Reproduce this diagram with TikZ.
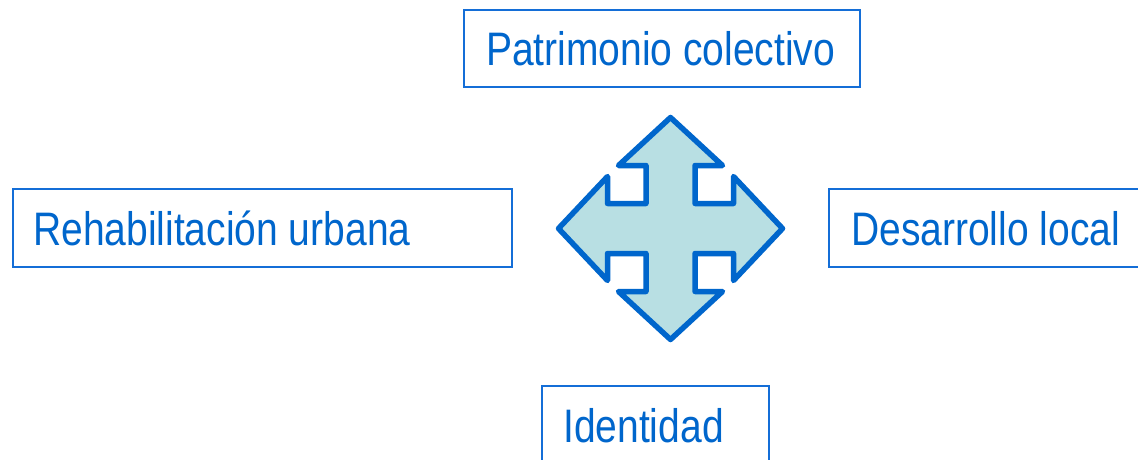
\documentclass[tikz,border=0pt]{standalone}
\usepackage{fontspec}
\setmainfont{Liberation Sans}[FakeStretch=0.83]
\definecolor{txtblue}{RGB}{0,102,204}
\definecolor{boxblue}{RGB}{20,110,215}
\definecolor{crossfill}{RGB}{184,223,227}
\tikzset{
  box/.style={draw=boxblue, line width=1.6pt, rectangle, inner sep=0pt, fill=white},
  lbl/.style={text=txtblue, inner sep=0pt, anchor=base west, font=\fontsize{47}{52}\selectfont},
  crossshape/.style={draw=txtblue, fill=crossfill, line width=5.5pt, line join=round}
}
\begin{document}
\begin{tikzpicture}[x=1pt,y=-1pt]
\useasboundingbox (0,0) rectangle (1138,460);
\clip (0,0) rectangle (1138,460);
% boxes
\node[box, minimum width=396pt, minimum height=77pt] (topbox) at (662,48.5) {};
\node[box, minimum width=499pt, minimum height=78pt] (leftbox) at (262.5,228) {};
\node[box, minimum width=330pt, minimum height=78pt] (rightbox) at (994,228) {};
\node[box, minimum width=227pt, minimum height=120pt] (botbox) at (655.5,446) {};
% labels
\node[lbl] (toplbl) at (486,65.5) {Patrimonio colectivo};
\node[lbl] (leftlbl) at (33,245.5) {Rehabilitación urbana};
\node[lbl] (rightlbl) at (851,245.5) {Desarrollo local};
\node[lbl] (botlbl) at (563,442.5) {Identidad};
% cross
\coordinate (c) at (670.5,228.5);
\draw[crossshape, shift={(c)}]
  (0,-111) -- (52,-63) -- (24.5,-63) -- (24.5,-25) -- (63,-25) -- (63,-52) --
  (112,0) -- (63,52) -- (63,25) -- (24.5,25) -- (24.5,63) -- (52,63) --
  (0,111) -- (-52,63) -- (-24.5,63) -- (-24.5,25) -- (-63,25) -- (-63,52) --
  (-112,0) -- (-63,-52) -- (-63,-25) -- (-24.5,-25) -- (-24.5,-63) -- (-52,-63) -- cycle;
\end{tikzpicture}
\end{document}
